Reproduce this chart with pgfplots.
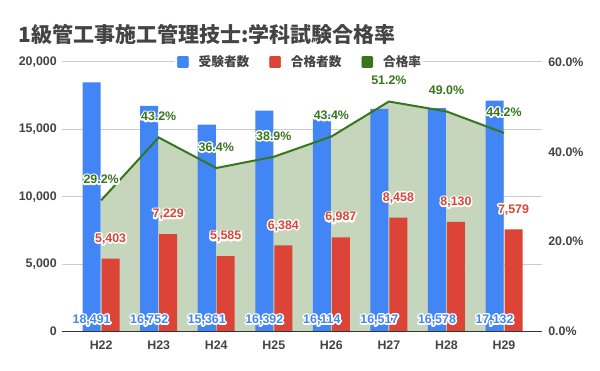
\documentclass[border=0pt]{standalone}
\usepackage{fontspec}
\setmainfont{Liberation Sans}
\newfontfamily\cjk{Noto Sans CJK JP}
\usepackage{pgfplots}
\pgfplotsset{compat=1.18}
\usepackage{pgfplotstable}

\newcommand\halo[1]{\leavevmode\rlap{\special{pdf:literal direct 1 1 1 RG 2.4 w 1 j 1 J 1 Tr}#1\special{pdf:literal direct 0 Tr}}#1}

\definecolor{gblue}{HTML}{4285F4}
\definecolor{gred}{HTML}{DB4437}
\definecolor{ggreen}{HTML}{38761D}
\definecolor{garea}{HTML}{C5D6BC}
\definecolor{txt}{HTML}{444444}
\definecolor{gridc}{HTML}{CCCCCC}
\definecolor{zeroc}{HTML}{333333}

\pgfplotstableread{
x label examinees passers rate
0 H22 18491 5403 29.2
1 H23 16752 7229 43.2
2 H24 15361 5585 36.4
3 H25 16392 6384 38.9
4 H26 16114 6987 43.4
5 H27 16517 8458 51.2
6 H28 16578 8130 49.0
7 H29 17132 7579 44.2
}\data

\tikzset{lblfont/.style={font=\bfseries\fontsize{9.3bp}{11bp}\selectfont}}
\pgfplotsset{
  base/.style={
    scale only axis, width=360bp, height=202.125bp,
    at={(46.5bp,29.625bp)}, anchor=south west,
    xmin=-0.68, xmax=7.66, xtick=\empty,
    major tick length=0pt, axis line style={draw=none},
    clip=false,
    /pgf/number format/assume math mode=true,
    /pgf/number format/1000 sep={,},
  },
}

\begin{document}
\begin{tikzpicture}
\path[use as bounding box] (0,0) rectangle (450bp,278.25bp);

% area (behind bars)
\begin{axis}[base, ymin=0, ymax=60, hide axis]
\addplot[fill=garea, draw=none] table[x=x, y=rate]{\data} \closedcycle;
\end{axis}

% bars
\begin{axis}[base, ymin=0, ymax=20000,
  ytick={0,5000,10000,15000,20000},
  scaled y ticks=false,
  ymajorgrids, grid style={gridc, line width=0.75bp},
  yticklabel style={lblfont, text=txt, inner sep=0pt, anchor=east, xshift=-3.75bp},
]
\addplot[ybar, bar width=13.5bp, bar shift=0pt, fill=gblue, draw=none]
  table[x expr=\thisrow{x}-0.165, y=examinees]{\data};
\addplot[ybar, bar width=13.5bp, bar shift=0pt, fill=gred, draw=none,
  nodes near coords={\halo{\pgfmathprintnumber{\pgfplotspointmeta}}},
  every node near coord/.append style={lblfont, text=gred, anchor=center, yshift=14.8bp, inner sep=0pt},
  point meta=explicit]
  table[x expr=\thisrow{x}+0.165, y=passers, meta=passers]{\data};
\addplot[draw=none, mark=none,
  nodes near coords={\halo{\pgfmathprintnumber{\pgfplotspointmeta}}},
  every node near coord/.append style={lblfont, text=gblue, anchor=center, inner sep=0pt},
  point meta=explicit]
  table[x expr=\thisrow{x}-0.165, y expr=853, meta=examinees]{\data};
\end{axis}

% line, right axis, x labels, legend
\begin{axis}[base, ymin=0, ymax=60,
  ytick={0,20,40,60},
  yticklabel pos=right,
  yticklabel={\pgfmathprintnumber[fixed,fixed zerofill,precision=1]{\tick}\%},
  yticklabel style={lblfont, text=txt, inner sep=0pt, anchor=west, xshift=4.5bp},
  xtick={0,...,7},
  xticklabels={H22,H23,H24,H25,H26,H27,H28,H29},
  xticklabel style={lblfont, text=txt, inner sep=0pt, anchor=north, yshift=-6.5bp},
  extra y ticks={0}, extra y tick labels={},
  extra y tick style={grid=major, grid style={zeroc, line width=0.75bp}},
  legend image code/.code={\fill[#1, rounded corners=0.75bp] (0bp,-4.125bp) rectangle (8.25bp,4.125bp);},
  legend style={at={(0.494,1)}, anchor=center, draw=none, fill=white,
    inner xsep=1.5bp, inner ysep=1bp, legend columns=3,
    font=\cjk\bfseries\fontsize{9.5bp}{11bp}\selectfont, text=txt,
    nodes={inner sep=0pt},
    /tikz/every odd column/.append style={column sep=7.5bp},
    /tikz/every even column/.append style={column sep=15bp}},
]
\addlegendimage{gblue}
\addlegendimage{gred}
\addlegendimage{ggreen}
\addplot[ggreen, line width=1.5bp, mark=none, forget plot,
  nodes near coords={\halo{\pgfmathprintnumber[fixed,fixed zerofill,precision=1]{\pgfplotspointmeta}\%}},
  every node near coord/.append style={lblfont, text=ggreen, anchor=center, yshift=15.75bp, inner sep=0pt},
  point meta=explicit]
  table[x=x, y=rate, meta=rate]{\data};
\legend{受験者数,合格者数,合格率}
\end{axis}

\node[anchor=west, inner sep=0pt, text=txt, font=\cjk\bfseries\fontsize{15.75bp}{18bp}\selectfont]
  at (13.5bp,252.75bp) {1級管工事施工管理技士:学科試験合格率};
\end{tikzpicture}
\end{document}
